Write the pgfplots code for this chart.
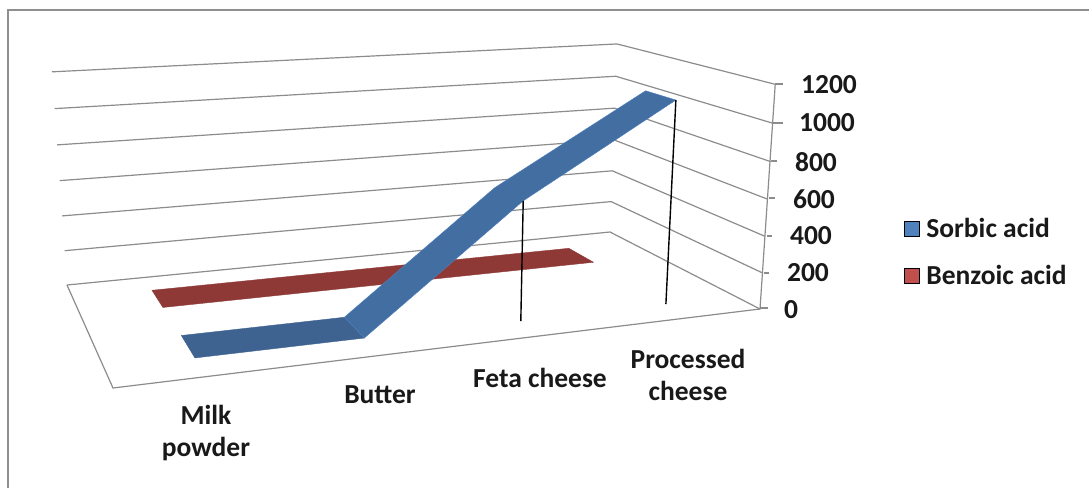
\documentclass[border=0pt]{standalone}
\usepackage{pgfplots}
\pgfplotsset{compat=1.18}
\usepackage{fontspec}
\setmainfont{Carlito}[BoldFont={Carlito Bold}]

\definecolor{wallgrey}{HTML}{8C8C8C}
\definecolor{framegrey}{HTML}{8F8F8F}
\definecolor{sorbic}{HTML}{4F81BD}
\definecolor{sorbicrise}{HTML}{436EA2}
\definecolor{sorbicflat}{HTML}{3E6390}
\definecolor{benzoic}{HTML}{C0504D}
\definecolor{benzoicside}{HTML}{8E3936}

% Perspective projection of (category position, depth, value) onto the drawing plane.
\pgfplotsset{
  /pgfplots/table/persp/.style={
    x expr={(778.44*\thisrow{cat}/4-29.97*\thisrow{depth}+113-21.21*\thisrow{val}/1200)
           /(0.17295*\thisrow{cat}/4+0.2393*\thisrow{depth}+1-0.0504*\thisrow{val}/1200)},
    y expr={(-25.56*\thisrow{cat}/4-34.8*\thisrow{depth}+388-267.8*\thisrow{val}/1200)
           /(0.17295*\thisrow{cat}/4+0.2393*\thisrow{depth}+1-0.0504*\thisrow{val}/1200)},
  },
  wall/.style={draw=wallgrey,line width=1.2pt,forget plot,no markers},
  ribbon/.style={line width=0.4pt,forget plot,no markers},
}

\newcommand{\labelfont}{\bfseries\fontsize{27.5}{32}\selectfont}
\newcommand{\catlabel}[3]{\node[font=\labelfont,align=center,text=black!90] at (axis cs:#1,#2) {#3};}
\newcommand{\ticklabel}[3]{\node[font=\labelfont,text=black!90] at (axis cs:#1,#2) {#3};}

\begin{document}
\begin{tikzpicture}
\useasboundingbox (0,0) rectangle (1089pt,488pt);
\begin{axis}[
  scale only axis,
  width=1089pt,height=488pt,
  xmin=0,xmax=1089,ymin=0,ymax=488,
  y dir=reverse,
  hide axis,
  clip=false,
  legend image code/.code={\fill[#1] (0pt,-7.5pt) rectangle (15pt,7.5pt);},
  legend cell align=left,
  legend style={at={(axis cs:904,218)},anchor=north west,draw=none,fill=none,
    inner sep=0pt,outer sep=0pt,row sep=26pt,
    font=\labelfont,
    nodes={inner xsep=7pt,inner ysep=0pt,text=black!90}},
]
% outer chart frame
\addplot[draw=framegrey,line width=2pt,forget plot,no markers] coordinates {(8,488) (8,10) (1089,10)};

% value levels on the back and side walls
\pgfplotsinvokeforeach{0,200,400,600,800,1000,1200}{
  \addplot[wall] table[persp,row sep=\\] {
    cat depth val\\
    0 1 #1\\
    4 1 #1\\
    4 0 #1\\
  };
}
% floor edges and the vertical axis
\addplot[wall] table[persp,row sep=\\] {
  cat depth val\\
  0 1 0\\
  0 0 0\\
  4 0 0\\
  4 0 1200\\
};

% tick marks beside the vertical axis
\addplot[wall] coordinates {(775,84) (783,84)};
\addplot[wall] coordinates {(773,123) (783,123)};
\addplot[wall] coordinates {(771,161) (777,161)};
\addplot[wall] coordinates {(769,198) (775,198)};
\addplot[wall] coordinates {(767,236) (772,236)};
\addplot[wall] coordinates {(764,273) (769,273)};
\addplot[wall] coordinates {(760,308) (768,308)};

% Benzoic acid ribbon
\addplot[ribbon,fill=benzoicside,draw=benzoicside] table[persp,row sep=\\] {
  cat depth val\\
  0.5 0.635 9\\
  1.5 0.635 9\\
  2.5 0.635 9\\
  3.49 0.635 9\\
  3.49 0.828 9\\
  2.5 0.828 9\\
  1.5 0.828 9\\
  0.5 0.828 9\\
} -- cycle;

% Sorbic acid ribbon
\addplot[ribbon,fill=sorbicflat,draw=sorbicflat] table[persp,row sep=\\] {
  cat depth val\\
  0.5 0.145 8\\
  1.5 0.145 8\\
  1.5 0.34 14\\
  0.5 0.34 14\\
} -- cycle;
\addplot[ribbon,fill=sorbicrise,draw=sorbic] table[persp,row sep=\\] {
  cat depth val\\
  1.5 0.145 8\\
  2.5 0.145 640\\
  3.5 0.145 1105\\
  3.5 0.332 1105\\
  2.475 0.332 640\\
  1.5 0.34 14\\
} -- cycle;

% drop lines from the Sorbic acid values
\addplot[black,line width=1.4pt,forget plot,no markers] table[persp,row sep=\\] {
  cat depth val\\
  2.5 0.145 640\\
  2.5 0.145 0\\
};
\addplot[black,line width=1.4pt,forget plot,no markers] table[persp,row sep=\\] {
  cat depth val\\
  3.5 0.145 1105\\
  3.5 0.145 0\\
};

% legend entries
\addlegendimage{fill=sorbic}
\addlegendentry{Sorbic acid}
\addlegendimage{fill=benzoic}
\addlegendentry{Benzoic acid}

% tick labels of the value axis
\ticklabel{829}{85}{1200}
\ticklabel{827}{123}{1000}
\ticklabel{816}{162}{800}
\ticklabel{814}{199}{600}
\ticklabel{811}{236}{400}
\ticklabel{808}{273}{200}
\ticklabel{791}{310}{0}

% category labels
\catlabel{206}{433}{Milk\\powder}
\catlabel{380}{395}{Butter}
\catlabel{540}{378}{Feta cheese}
\catlabel{688}{375}{Processed\\cheese}
\end{axis}
\end{tikzpicture}
\end{document}
